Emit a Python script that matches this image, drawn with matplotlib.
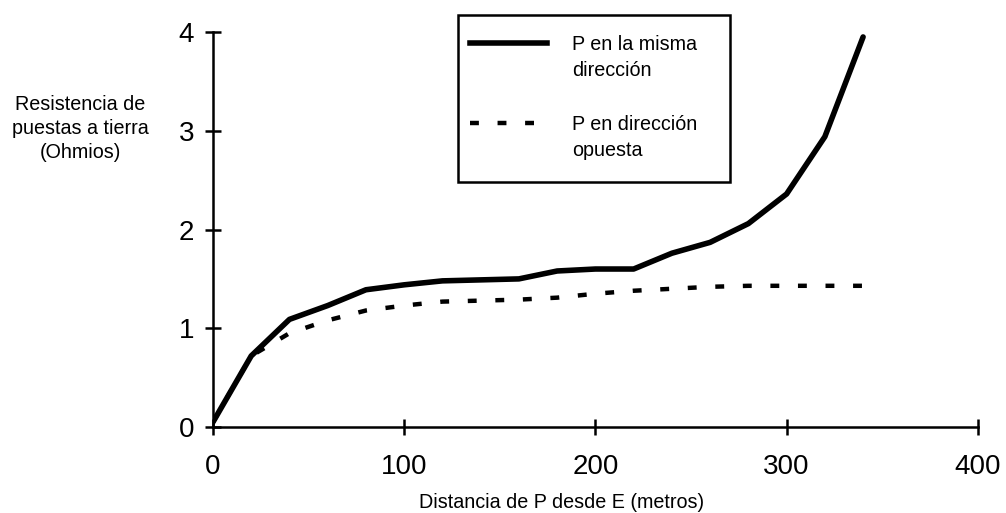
import matplotlib
matplotlib.use('Agg')
import matplotlib.pyplot as plt
from matplotlib.lines import Line2D
from matplotlib.patches import Rectangle

# distance of P from E (m)
dist = [0, 20, 40, 60, 80, 100, 120, 140, 160, 180, 200, 220, 240, 260, 280, 300, 320, 340]
# resistance (ohm), P in same direction
r_same = [0.05, 0.72, 1.09, 1.23, 1.39, 1.44, 1.48, 1.49, 1.50, 1.58, 1.60, 1.60,
          1.76, 1.87, 2.06, 2.36, 2.94, 3.95]
# resistance (ohm), P in opposite direction
r_opp = [0.05, 0.72, 0.95, 1.08, 1.18, 1.23, 1.27, 1.28, 1.29, 1.31, 1.35, 1.38,
         1.40, 1.42, 1.43, 1.43, 1.43, 1.43]

xticks = [0, 100, 200, 300, 400]
yticks = [0, 1, 2, 3, 4]
labels = [['P en la misma', 'dirección'], ['P en dirección', 'opuesta']]
ylabel = ['Resistencia de', 'puestas a tierra', '(Ohmios)']

FONT = ['Liberation Sans', 'DejaVu Sans']
FS = 14.2
W, H = 1006, 513
px = lambda x, y: (x / W, 1 - y / H)   # pixel -> figure fraction

fig = plt.figure(figsize=(W / 100, H / 100), dpi=100)
ax = fig.add_axes([0.2117, 0.1676, 0.972 - 0.2117, 0.9376 - 0.1676])

DASH = (0, (2.0, 4.2))
ax.plot(dist, r_opp, color='black', lw=3.2, ls=DASH)
ax.plot(dist, r_same, color='black', lw=4.0, solid_capstyle='round')

ax.set_xlim(0, 400)
ax.set_ylim(0, 4)
ax.set_xticks(xticks)
ax.set_yticks(yticks)
for s in ['top', 'right']:
    ax.spines[s].set_visible(False)
for s in ['left', 'bottom']:
    ax.spines[s].set_linewidth(1.8)
ax.tick_params(direction='inout', length=11, width=1.8, labelsize=20)
ax.tick_params(axis='x', pad=14)
ax.tick_params(axis='y', pad=8)
for lab in ax.get_xticklabels() + ax.get_yticklabels():
    lab.set_family(FONT)

# axis titles
for yy, line in zip([105, 129, 153], ylabel):
    fig.text(*px(80, yy), line, ha='center', va='center', fontsize=FS, family=FONT)
fig.text(*px(562, 502), 'Distancia de P desde E (metros)', ha='center', va='center',
         fontsize=FS, family=FONT)

# legend box, drawn by hand so the handles sit on the first text line
x0, y0 = px(458, 182)
x1, y1 = px(730, 15)
fig.add_artist(Rectangle((x0, y0), x1 - x0, y1 - y0, transform=fig.transFigure,
                         facecolor='white', edgecolor='black', lw=1.8))
for (yl, ls, lw), lines in zip([(43, '-', 4.0), (123, DASH, 3.2)], labels):
    (ha, hy), (hb, _) = px(470, yl), px(547, yl)
    fig.add_artist(Line2D([ha, hb], [hy, hy], transform=fig.transFigure,
                          color='black', lw=lw, ls=ls))
    for k, line in enumerate(lines):
        fig.text(*px(572, yl + 2 + 25 * k), line, ha='left', va='center',
                 fontsize=FS, family=FONT)

fig.savefig('out.png', dpi=100)
